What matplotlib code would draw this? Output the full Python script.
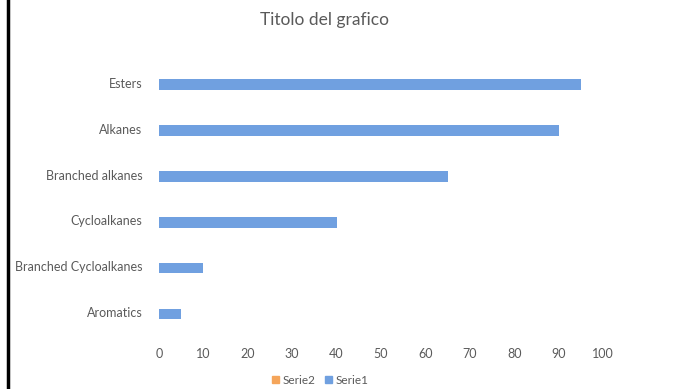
import matplotlib
matplotlib.use("Agg")
import matplotlib.pyplot as plt
from matplotlib.lines import Line2D
from matplotlib.patches import Patch
import numpy as np

plt.rcParams['font.family'] = ['Lato', 'DejaVu Sans']

categories = ['Aromatics', 'Branched Cycloalkanes', 'Cycloalkanes',
              'Branched alkanes', 'Alkanes', 'Esters']
serie1 = [5, 10, 40, 65, 90, 95]
serie2 = [0, 0, 0, 0, 0, 0]
xticks = [0, 10, 20, 30, 40, 50, 60, 70, 80, 90, 100]

blue = '#70a0e0'
orange = '#f5a55a'
grey = '#5a5a5a'

fig = plt.figure(figsize=(6.8, 3.89), dpi=100, facecolor='white')
ax = fig.add_axes([159 / 680, 1 - 335 / 389, 444 / 680, 275 / 389])

y = np.arange(len(categories))
ax.barh(y + 0.11, serie2, height=0.22, color=orange, label='Serie2')
ax.barh(y - 0.04, serie1, height=0.23, color=blue, label='Serie1')

ax.set_xlim(0, 100)
ax.set_ylim(-0.5, len(categories) - 0.5)
ax.set_xticks(xticks)
ax.set_yticks(y)
ax.set_yticklabels(categories)
for s in ax.spines.values():
    s.set_visible(False)
ax.tick_params(axis='both', length=0, labelsize=9, labelcolor=grey)
ax.tick_params(axis='x', pad=9)
ax.tick_params(axis='y', pad=12)

fig.text(325 / 680, 1 - 20 / 389, 'Titolo del grafico', ha='center', va='center',
         fontsize=12.5, color=grey)

handles = [Patch(color=orange), Patch(color=blue)]
fig.legend(handles, ['Serie2', 'Serie1'], loc='center',
           bbox_to_anchor=(320 / 680, 1 - 380 / 389), ncol=2, frameon=False,
           fontsize=8.5, labelcolor=grey, handlelength=0.6, handleheight=0.6,
           handletextpad=0.3, columnspacing=0.8)

# slide frame edge on the left
fig.add_artist(Line2D([8 / 680, 8 / 680], [0, 1], color='black', linewidth=2.5))

fig.savefig('out.png', dpi=100, facecolor='white')
